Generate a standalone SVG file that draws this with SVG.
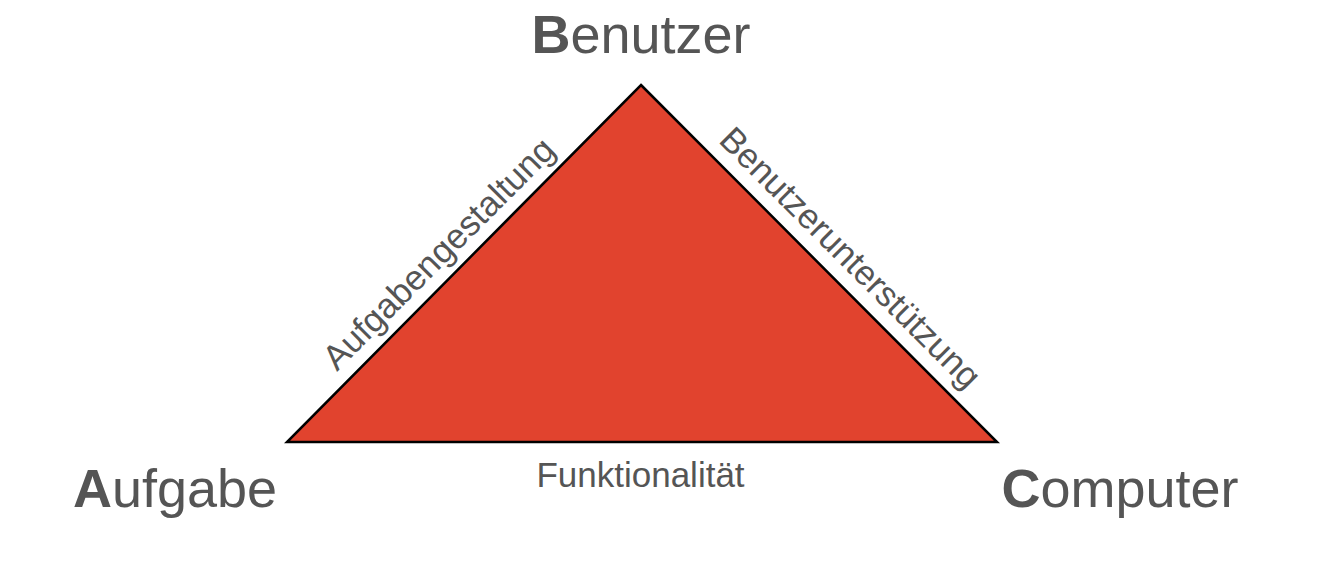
<svg xmlns="http://www.w3.org/2000/svg" width="1318" height="564" viewBox="0 0 1318 564">
<style>
text{font-family:"Liberation Sans",Arial,Helvetica,sans-serif;fill:#555555}
.big{font-size:54px}
.big tspan{font-weight:bold}
.edge{font-size:35px;text-anchor:middle}
</style>
<rect width="1318" height="564" fill="#ffffff"/>
<g id="triangle">
<polygon points="641,85 997,442 287,442" fill="#e1432e" stroke="#000000" stroke-width="2.5" stroke-linejoin="miter"/>
</g>
<g id="node-benutzer"><text class="big" x="641" y="53" text-anchor="middle"><tspan>B</tspan>enutzer</text></g>
<g id="node-aufgabe"><text class="big" x="175" y="507" text-anchor="middle"><tspan>A</tspan>ufgabe</text></g>
<g id="node-computer"><text class="big" x="1120" y="507" text-anchor="middle"><tspan>C</tspan>omputer</text></g>
<g id="connectors">
<text class="edge" transform="translate(447,262) rotate(-45)">Aufgabengestaltung</text>
<text class="edge" transform="translate(842,266) rotate(45)">Benutzerunterstützung</text>
<text class="edge" x="640.5" y="487">Funktionalität</text>
</g>
</svg>
